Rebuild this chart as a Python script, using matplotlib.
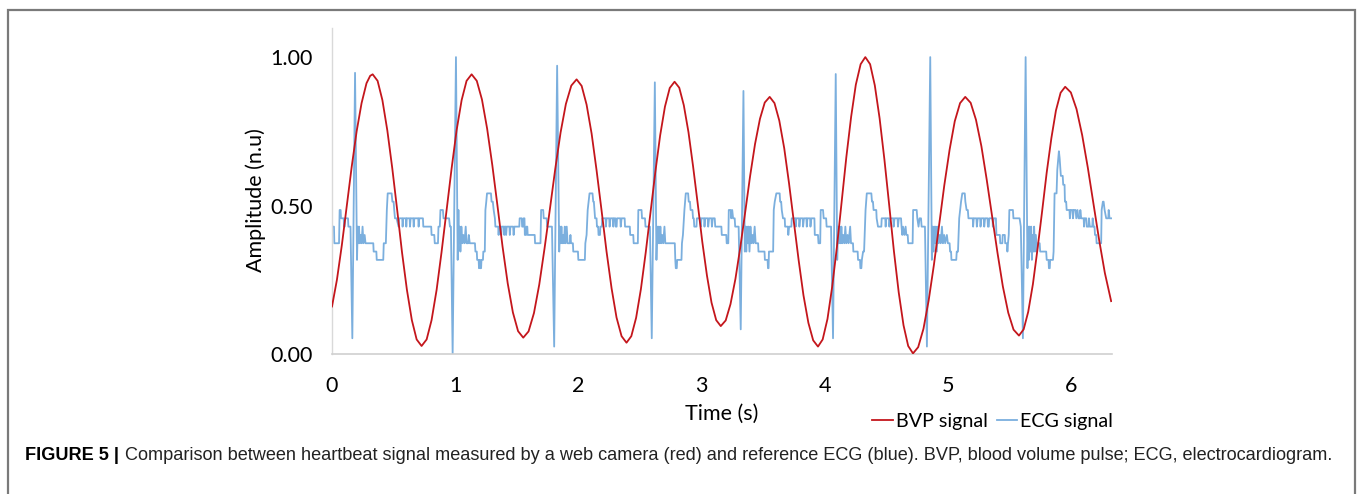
import matplotlib

matplotlib.use("Agg")
import matplotlib.pyplot as plt
from matplotlib.patches import Rectangle

# BVP signal (camera)
bvp_time = [
    0.000, 0.040, 0.080, 0.120, 0.160, 0.200, 0.240, 0.280, 0.310,
    0.330, 0.370, 0.409, 0.449, 0.489, 0.529, 0.568, 0.608, 0.648, 0.687,
    0.727, 0.768, 0.808, 0.849, 0.889, 0.930, 0.971, 1.011, 1.052, 1.092,
    1.133, 1.175, 1.217, 1.259, 1.301, 1.343, 1.384, 1.426, 1.468, 1.510,
    1.552, 1.595, 1.639, 1.682, 1.725, 1.769, 1.812, 1.855, 1.898, 1.942,
    1.985, 2.026, 2.066, 2.107, 2.147, 2.188, 2.228, 2.269, 2.309, 2.350,
    2.390, 2.429, 2.468, 2.507, 2.546, 2.585, 2.624, 2.663, 2.702, 2.741,
    2.780, 2.818, 2.855, 2.893, 2.930, 2.968, 3.005, 3.043, 3.080, 3.118,
    3.155, 3.195, 3.234, 3.274, 3.314, 3.354, 3.393, 3.433, 3.473, 3.512,
    3.552, 3.591, 3.630, 3.670, 3.709, 3.748, 3.787, 3.826, 3.866, 3.905,
    3.944, 3.982, 4.021, 4.059, 4.098, 4.136, 4.174, 4.213, 4.251, 4.290,
    4.328, 4.367, 4.405, 4.444, 4.483, 4.522, 4.560, 4.599, 4.638, 4.676,
    4.715, 4.757, 4.800, 4.842, 4.885, 4.927, 4.969, 5.012, 5.054, 5.097,
    5.139, 5.183, 5.226, 5.270, 5.313, 5.357, 5.401, 5.444, 5.488, 5.531,
    5.575, 5.613, 5.650, 5.688, 5.725, 5.763, 5.800, 5.838, 5.875, 5.913,
    5.950, 5.996, 6.042, 6.088, 6.134, 6.180, 6.226, 6.272, 6.323,
]
bvp_value = [
    0.160, 0.250, 0.367, 0.500, 0.631, 0.750, 0.845, 0.912, 0.937,
    0.942, 0.920, 0.855, 0.753, 0.626, 0.485, 0.343, 0.216, 0.114, 0.049,
    0.027, 0.049, 0.114, 0.216, 0.343, 0.485, 0.626, 0.753, 0.855, 0.920,
    0.942, 0.920, 0.857, 0.759, 0.636, 0.499, 0.362, 0.238, 0.140, 0.077,
    0.055, 0.076, 0.138, 0.234, 0.356, 0.490, 0.624, 0.746, 0.842, 0.904,
    0.925, 0.903, 0.840, 0.742, 0.619, 0.482, 0.345, 0.221, 0.123, 0.060,
    0.038, 0.060, 0.122, 0.219, 0.342, 0.478, 0.613, 0.736, 0.833, 0.896,
    0.917, 0.897, 0.838, 0.747, 0.633, 0.506, 0.378, 0.264, 0.173, 0.114,
    0.094, 0.113, 0.168, 0.253, 0.361, 0.480, 0.599, 0.707, 0.792, 0.847,
    0.866, 0.845, 0.786, 0.693, 0.575, 0.446, 0.316, 0.198, 0.105, 0.046,
    0.025, 0.049, 0.118, 0.226, 0.362, 0.513, 0.663, 0.799, 0.907, 0.976,
    1.000, 0.976, 0.905, 0.794, 0.655, 0.501, 0.347, 0.208, 0.097, 0.027,
    0.002, 0.023, 0.085, 0.180, 0.301, 0.434, 0.568, 0.688, 0.784, 0.845,
    0.866, 0.846, 0.789, 0.700, 0.588, 0.464, 0.340, 0.228, 0.139, 0.082,
    0.062, 0.083, 0.142, 0.235, 0.352, 0.481, 0.611, 0.727, 0.820, 0.880,
    0.900, 0.881, 0.825, 0.737, 0.627, 0.505, 0.383, 0.273, 0.178,
]

# reference ECG, one line per stretch of the trace
ecg_time = [
    0.000, 0.016, 0.019, 0.057, 0.062, 0.070, 0.073, 0.095, 0.098, 0.103, 0.106, 0.130, 0.133, 0.150, 0.165, 0.187,
    0.203, 0.209, 0.214, 0.219, 0.225, 0.232, 0.240, 0.248, 0.255, 0.265, 0.272, 0.335, 0.338, 0.360, 0.363, 0.416, 0.420, 0.437, 0.445, 0.452, 0.484, 0.490, 0.500, 0.505, 0.511, 0.524,
    0.540, 0.545, 0.570, 0.573, 0.578, 0.600, 0.603, 0.607, 0.630, 0.633, 0.638, 0.660, 0.663, 0.668, 0.700, 0.703, 0.708, 0.738, 0.741, 0.805, 0.808, 0.830, 0.834, 0.860, 0.864, 0.875, 0.880, 0.900, 0.905, 0.950, 0.957, 0.965, 0.979, 1.006,
    1.020, 1.026, 1.030, 1.036, 1.042, 1.050, 1.058, 1.066, 1.075, 1.085, 1.092, 1.105, 1.110, 1.118, 1.160, 1.164, 1.175, 1.178, 1.190, 1.193, 1.200, 1.203, 1.210, 1.213, 1.225, 1.228, 1.240, 1.245, 1.252, 1.258, 1.290, 1.295, 1.305, 1.312, 1.322, 1.326,
    1.349, 1.352, 1.356, 1.370, 1.373, 1.378, 1.395, 1.398, 1.402, 1.410, 1.413, 1.418, 1.440, 1.443, 1.448, 1.470, 1.474, 1.480, 1.520, 1.523, 1.540, 1.543, 1.552, 1.555, 1.562, 1.565, 1.575, 1.578, 1.585, 1.588, 1.645, 1.648, 1.692, 1.697, 1.714, 1.718, 1.742, 1.746, 1.785, 1.803, 1.827,
    1.844, 1.850, 1.856, 1.862, 1.868, 1.875, 1.882, 1.889, 1.896, 1.905, 1.912, 1.930, 1.935, 1.940, 1.955, 1.958, 1.996, 1.999, 2.052, 2.056, 2.066, 2.075, 2.090, 2.114, 2.120, 2.125, 2.135, 2.147, 2.150, 2.160, 2.163, 2.175, 2.178, 2.190, 2.193,
    2.220, 2.223, 2.228, 2.250, 2.253, 2.260, 2.280, 2.283, 2.288, 2.300, 2.303, 2.310, 2.313, 2.340, 2.343, 2.350, 2.375, 2.378, 2.417, 2.420, 2.445, 2.448, 2.482, 2.486, 2.512, 2.516, 2.540, 2.544, 2.580, 2.595, 2.620,
    2.633, 2.640, 2.646, 2.652, 2.658, 2.665, 2.672, 2.680, 2.688, 2.698, 2.705, 2.782, 2.786, 2.790, 2.798, 2.801, 2.836, 2.840, 2.848, 2.860, 2.871, 2.890, 2.895, 2.905, 2.910, 2.925, 2.930, 2.936, 2.940, 2.958, 2.961,
    2.990, 2.993, 2.998, 3.020, 3.023, 3.028, 3.050, 3.053, 3.060, 3.080, 3.083, 3.090, 3.106, 3.110, 3.160, 3.163, 3.200, 3.203, 3.216, 3.220, 3.236, 3.240, 3.248, 3.255, 3.268, 3.272, 3.300, 3.317, 3.339,
    3.350, 3.356, 3.362, 3.368, 3.374, 3.380, 3.388, 3.396, 3.404, 3.412, 3.420, 3.430, 3.438, 3.458, 3.461, 3.510, 3.513, 3.535, 3.538, 3.543, 3.546, 3.580, 3.585, 3.593, 3.606, 3.633, 3.637, 3.645, 3.650, 3.660, 3.674, 3.677, 3.700, 3.703, 3.710, 3.728, 3.731,
    3.760, 3.763, 3.768, 3.790, 3.793, 3.800, 3.820, 3.823, 3.830, 3.850, 3.853, 3.858, 3.880, 3.883, 3.890, 3.915, 3.918, 3.944, 3.948, 3.962, 3.966, 3.985, 3.990, 4.010, 4.014, 4.050, 4.066, 4.088,
    4.100, 4.107, 4.113, 4.120, 4.127, 4.134, 4.141, 4.150, 4.158, 4.166, 4.174, 4.184, 4.192, 4.205, 4.212, 4.228, 4.231, 4.266, 4.269, 4.285, 4.288, 4.296, 4.300, 4.310, 4.318, 4.330, 4.340, 4.377, 4.382, 4.390, 4.395, 4.417, 4.420, 4.431, 4.458, 4.461,
    4.490, 4.493, 4.498, 4.520, 4.523, 4.530, 4.555, 4.558, 4.565, 4.590, 4.593, 4.600, 4.618, 4.622, 4.628, 4.634, 4.645, 4.655, 4.661, 4.672, 4.676, 4.712, 4.716, 4.745, 4.750, 4.760, 4.768, 4.780, 4.785, 4.812, 4.828, 4.855,
    4.868, 4.875, 4.881, 4.887, 4.893, 4.900, 4.908, 4.915, 4.923, 4.932, 4.940, 4.950, 4.958, 4.968, 4.976, 4.990, 4.998, 5.012, 5.016, 5.024, 5.027, 5.066, 5.070, 5.080, 5.090, 5.105, 5.115, 5.135, 5.140, 5.150, 5.160, 5.165,
    5.200, 5.203, 5.208, 5.230, 5.233, 5.240, 5.260, 5.263, 5.270, 5.290, 5.293, 5.300, 5.320, 5.323, 5.330, 5.333, 5.360, 5.363, 5.370, 5.388, 5.392, 5.420, 5.423, 5.440, 5.443, 5.460, 5.463, 5.478, 5.481, 5.486, 5.492, 5.497, 5.526, 5.530, 5.580, 5.590, 5.607, 5.629,
    5.644, 5.650, 5.656, 5.662, 5.668, 5.674, 5.680, 5.686, 5.692, 5.698, 5.705, 5.712, 5.720, 5.728, 5.743, 5.747, 5.796, 5.800, 5.815, 5.818, 5.825, 5.828, 5.851, 5.856, 5.864, 5.880, 5.886, 5.899, 5.905, 5.915, 5.930, 5.934, 5.945, 5.948, 5.958,
    5.962, 5.985, 5.988, 5.995, 6.010, 6.013, 6.020, 6.035, 6.040, 6.050, 6.058, 6.070, 6.073, 6.080, 6.100, 6.103, 6.108, 6.121, 6.125, 6.140, 6.143, 6.150, 6.170, 6.173, 6.180, 6.188, 6.192, 6.202, 6.205, 6.242, 6.246, 6.256, 6.262, 6.270, 6.283, 6.300, 6.303, 6.310, 6.323,
]
ecg_value = [
    0.429, 0.429, 0.373, 0.373, 0.485, 0.485, 0.457, 0.457, 0.429, 0.429, 0.457, 0.457, 0.429, 0.429, 0.053, 0.947,
    0.317, 0.429, 0.373, 0.429, 0.373, 0.401, 0.373, 0.429, 0.373, 0.401, 0.373, 0.373, 0.345, 0.345, 0.317, 0.317, 0.373, 0.373, 0.485, 0.541, 0.541, 0.513, 0.513, 0.485, 0.457, 0.457,
    0.429, 0.457, 0.457, 0.429, 0.457, 0.457, 0.429, 0.457, 0.457, 0.429, 0.457, 0.457, 0.429, 0.457, 0.457, 0.429, 0.457, 0.457, 0.429, 0.429, 0.401, 0.401, 0.373, 0.373, 0.429, 0.429, 0.485, 0.485, 0.457, 0.457, 0.429, 0.429, 0.000, 1.000,
    0.317, 0.485, 0.373, 0.429, 0.345, 0.429, 0.373, 0.401, 0.373, 0.429, 0.373, 0.373, 0.401, 0.373, 0.373, 0.345, 0.345, 0.317, 0.317, 0.289, 0.317, 0.289, 0.289, 0.317, 0.317, 0.345, 0.345, 0.485, 0.513, 0.541, 0.541, 0.513, 0.513, 0.485, 0.457, 0.429,
    0.429, 0.401, 0.429, 0.429, 0.401, 0.429, 0.429, 0.401, 0.429, 0.429, 0.401, 0.429, 0.429, 0.401, 0.429, 0.429, 0.401, 0.429, 0.429, 0.457, 0.457, 0.429, 0.429, 0.457, 0.457, 0.401, 0.401, 0.429, 0.429, 0.401, 0.401, 0.373, 0.373, 0.485, 0.485, 0.457, 0.457, 0.429, 0.429, 0.025, 0.971,
    0.345, 0.429, 0.373, 0.429, 0.373, 0.401, 0.373, 0.429, 0.373, 0.429, 0.373, 0.373, 0.401, 0.373, 0.373, 0.345, 0.345, 0.317, 0.317, 0.373, 0.401, 0.485, 0.541, 0.541, 0.513, 0.513, 0.457, 0.457, 0.429, 0.429, 0.401, 0.401, 0.429, 0.429, 0.457,
    0.457, 0.429, 0.457, 0.457, 0.429, 0.457, 0.457, 0.429, 0.457, 0.457, 0.429, 0.429, 0.457, 0.457, 0.429, 0.457, 0.457, 0.429, 0.429, 0.401, 0.401, 0.373, 0.373, 0.485, 0.485, 0.457, 0.457, 0.429, 0.429, 0.053, 0.915,
    0.317, 0.429, 0.373, 0.429, 0.373, 0.429, 0.373, 0.401, 0.373, 0.429, 0.373, 0.373, 0.317, 0.289, 0.289, 0.317, 0.317, 0.373, 0.401, 0.485, 0.541, 0.541, 0.513, 0.513, 0.485, 0.485, 0.457, 0.457, 0.429, 0.429, 0.457,
    0.457, 0.429, 0.457, 0.457, 0.429, 0.457, 0.457, 0.429, 0.457, 0.457, 0.429, 0.457, 0.457, 0.429, 0.429, 0.401, 0.401, 0.373, 0.373, 0.485, 0.485, 0.457, 0.485, 0.457, 0.457, 0.429, 0.429, 0.083, 0.886,
    0.345, 0.429, 0.345, 0.429, 0.373, 0.429, 0.345, 0.429, 0.373, 0.401, 0.373, 0.429, 0.373, 0.373, 0.345, 0.345, 0.317, 0.317, 0.289, 0.289, 0.345, 0.345, 0.485, 0.513, 0.541, 0.541, 0.513, 0.513, 0.485, 0.457, 0.457, 0.429, 0.429, 0.401, 0.429, 0.429, 0.457,
    0.457, 0.429, 0.457, 0.457, 0.429, 0.457, 0.457, 0.429, 0.457, 0.457, 0.429, 0.457, 0.457, 0.429, 0.457, 0.457, 0.401, 0.401, 0.373, 0.373, 0.485, 0.485, 0.457, 0.457, 0.429, 0.429, 0.053, 0.943,
    0.317, 0.429, 0.373, 0.429, 0.373, 0.429, 0.373, 0.401, 0.373, 0.429, 0.373, 0.401, 0.373, 0.429, 0.373, 0.373, 0.345, 0.345, 0.317, 0.317, 0.289, 0.289, 0.317, 0.345, 0.345, 0.485, 0.541, 0.541, 0.513, 0.513, 0.485, 0.485, 0.457, 0.429, 0.429, 0.457,
    0.457, 0.429, 0.457, 0.457, 0.429, 0.457, 0.457, 0.429, 0.457, 0.457, 0.429, 0.457, 0.457, 0.429, 0.401, 0.429, 0.401, 0.429, 0.401, 0.401, 0.373, 0.373, 0.485, 0.485, 0.457, 0.429, 0.457, 0.457, 0.429, 0.429, 0.025, 1.000,
    0.317, 0.429, 0.345, 0.429, 0.373, 0.429, 0.345, 0.429, 0.373, 0.401, 0.373, 0.429, 0.373, 0.401, 0.373, 0.401, 0.373, 0.373, 0.345, 0.345, 0.317, 0.317, 0.345, 0.345, 0.457, 0.513, 0.541, 0.541, 0.513, 0.485, 0.485, 0.457,
    0.457, 0.429, 0.457, 0.457, 0.429, 0.457, 0.457, 0.429, 0.457, 0.457, 0.429, 0.457, 0.457, 0.429, 0.429, 0.457, 0.457, 0.429, 0.457, 0.457, 0.401, 0.401, 0.373, 0.373, 0.401, 0.401, 0.373, 0.373, 0.345, 0.373, 0.401, 0.485, 0.485, 0.457, 0.457, 0.429, 0.053, 1.000,
    0.289, 0.429, 0.317, 0.429, 0.345, 0.429, 0.317, 0.401, 0.345, 0.429, 0.345, 0.401, 0.345, 0.373, 0.373, 0.345, 0.345, 0.317, 0.317, 0.289, 0.289, 0.317, 0.317, 0.345, 0.541, 0.541, 0.620, 0.683, 0.660, 0.600, 0.600, 0.570, 0.570, 0.513, 0.513,
    0.485, 0.485, 0.457, 0.485, 0.485, 0.457, 0.485, 0.485, 0.457, 0.485, 0.457, 0.457, 0.485, 0.457, 0.457, 0.429, 0.457, 0.457, 0.429, 0.429, 0.457, 0.429, 0.429, 0.457, 0.429, 0.429, 0.401, 0.401, 0.373, 0.373, 0.485, 0.513, 0.513, 0.485, 0.457, 0.457, 0.485, 0.457, 0.457,
]

x_ticks = [0, 1, 2, 3, 4, 5, 6]
y_ticks = [0.0, 0.5, 1.0]

CHART_FONT = ["Lato", "DejaVu Sans"]
CAPTION_FONT = ["Liberation Sans", "DejaVu Sans"]
BVP_COLOR = "#C4161C"
ECG_COLOR = "#7BAFDE"
W, H = 1357, 494


def main() -> None:
    assert len(bvp_time) == len(bvp_value)
    assert len(ecg_time) == len(ecg_value), (len(ecg_time), len(ecg_value))

    fig = plt.figure(figsize=(W / 100, H / 100), dpi=100)
    fig.patch.set_facecolor("white")

    ax = fig.add_axes([332 / W, 1 - 354 / H, 780 / W, 326 / H])
    ax.plot(ecg_time, ecg_value, color=ECG_COLOR, lw=1.3, label="ECG signal", zorder=2)
    ax.plot(bvp_time, bvp_value, color=BVP_COLOR, lw=1.3, label="BVP signal",
            solid_joinstyle="round", zorder=3)

    ax.set_xlim(0, 6.33)
    ax.set_ylim(0, 1.098)
    ax.set_xticks(x_ticks)
    ax.set_yticks(y_ticks, labels=[f"{v:.2f}" for v in y_ticks])
    ax.tick_params(length=0, labelsize=15.5, colors="#000000")
    ax.tick_params(axis="x", pad=16)
    ax.tick_params(axis="y", pad=14)
    for lab in ax.get_xticklabels() + ax.get_yticklabels():
        lab.set_fontfamily(CHART_FONT)
    for side in ("top", "right"):
        ax.spines[side].set_visible(False)
    ax.spines["left"].set_color("#D9D9D9")
    ax.spines["bottom"].set_color("#D0D0D0")
    ax.spines["left"].set_linewidth(1.0)
    ax.spines["bottom"].set_linewidth(1.2)

    fig.text(722 / W, 1 - 414 / H, "Time (s)", ha="center", va="center",
             fontsize=15.5, family=CHART_FONT)
    fig.text(256 / W, 1 - 200 / H, "Amplitude (n.u)", ha="center", va="center",
             rotation=90, fontsize=15.5, family=CHART_FONT)

    handles, labels = ax.get_legend_handles_labels()
    fig.legend(handles[::-1], labels[::-1], loc="center right",
               bbox_to_anchor=(1119 / W, 1 - 421 / H), ncol=2, frameon=False,
               handlelength=1.05, handletextpad=0.15, columnspacing=0.45,
               borderaxespad=0.0, borderpad=0.3,
               prop={"family": CHART_FONT, "size": 14.2})

    # figure frame, open at the bottom
    fig.add_artist(Rectangle((8 / W, -0.1), (1355 - 8) / W, 1.1 - 10 / H,
                             transform=fig.transFigure, fill=False,
                             edgecolor="#7A7A7A", lw=1.6))

    cap_y = 1 - 455 / H
    bold = fig.text(25 / W, cap_y, "FIGURE 5 |", ha="left", va="center",
                    fontsize=13.1, fontweight="bold", family=CAPTION_FONT)
    fig.canvas.draw()
    bb = bold.get_window_extent(fig.canvas.get_renderer())
    fig.text((bb.x1 + 6) / W, cap_y,
             "Comparison between heartbeat signal measured by a web camera (red) "
             "and reference ECG (blue). BVP, blood volume pulse; ECG, electrocardiogram.",
             ha="left", va="center", fontsize=13.1, family=CAPTION_FONT, color="#222222")

    fig.savefig("out.png", dpi=100)
    plt.close(fig)


if __name__ == "__main__":
    main()
